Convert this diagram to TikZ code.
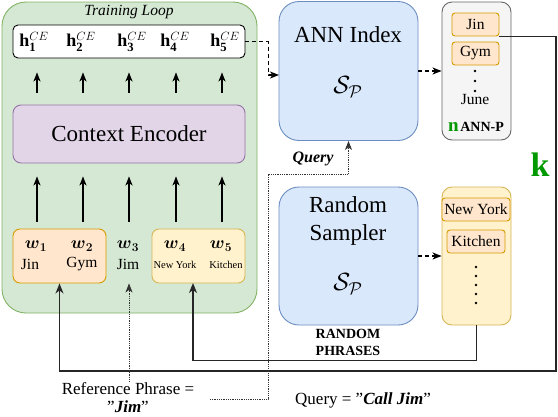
\documentclass[tikz,border=0pt]{standalone}
\usepackage{amsmath, amssymb}
\usepackage{fontspec}
\setmainfont{Liberation Serif}
\usepackage{tikz}
\usetikzlibrary{arrows.meta}
\definecolor{gfill}{HTML}{D5E8D4}
\definecolor{gline}{HTML}{82B366}
\definecolor{pfill}{HTML}{E1D5E7}
\definecolor{pline}{HTML}{9673A6}
\definecolor{bfill}{HTML}{DAE8FC}
\definecolor{bline}{HTML}{6C8EBF}
\definecolor{ofill}{HTML}{FFE6CC}
\definecolor{oline}{HTML}{D79B00}
\definecolor{yfill}{HTML}{FFF2CC}
\definecolor{yline}{HTML}{D6B656}
\definecolor{qfill}{HTML}{F5F5F5}
\definecolor{qline}{HTML}{666666}
\definecolor{kgreen}{HTML}{009900}
\tikzset{lg/.style={font=\fontsize{23}{28}\selectfont}}
\tikzset{md/.style={font=\fontsize{15.5}{18}\selectfont}}
\tikzset{mt/.style={font=\fontsize{18}{20}\selectfont}}
\tikzset{sm/.style={font=\fontsize{10.5}{12}\selectfont}}
\tikzset{nt/.style={font=\fontsize{17}{18}\selectfont}}
\tikzset{box/.style={draw, rounded corners=#1, inner sep=0pt, line width=0.9pt}}
\tikzset{up/.style={-{Stealth[length=9pt,width=7pt,inset=2.5pt]}, line width=1.2pt}}
\tikzset{dsh/.style={up, dash pattern=on 4pt off 3pt}}
\tikzset{link/.style={-{Stealth[length=10pt,width=8pt,inset=3pt]}, line width=1.3pt, black!85}}
\tikzset{dots/.style={-{Stealth[length=9pt,width=7pt,inset=2.5pt]}, line width=0.9pt, black!80, dash pattern=on 1pt off 0.8pt}}

\begin{document}
\begin{tikzpicture}[x=1pt,y=-1pt]
        \useasboundingbox (0,0) rectangle (558,416);
        % training loop
        \node[box=24, fill=gfill, draw=gline, minimum width=255pt, minimum height=311pt] (loop) at (129.5,157.5) {};
        \node[font=\fontsize{15.5}{18}\selectfont\itshape] (title) at (129,12) {Training Loop};
        \node[box=5, fill=white, draw=black, minimum width=232pt, minimum height=33pt] (hbox) at (129,41.5) {};
        \node[box=8, fill=pfill, draw=pline, minimum width=232pt, minimum height=58pt, lg] (enc) at (129,134) {Context Encoder};
        \node[box=7, fill=ofill, draw=oline, minimum width=93pt, minimum height=54pt] (wA) at (59.5,256) {};
        \node[box=7, fill=yfill, draw=yline, minimum width=93pt, minimum height=54pt] (wB) at (198.5,256) {};
        \foreach \i/\x in {1/34,2/81,3/132,4/175,5/225}
          \node[mt, inner sep=0pt] (h\i) at (\x,42) {$\mathbf{h}^{CE}_{\mathbf{\i}}$};
        \foreach \i/\x in {1/36,2/82,3/128,4/175,5/221}
          \node[mt, inner sep=0pt] (w\i) at (\x,246) {$\boldsymbol{w}_{\boldsymbol{\i}}$};
        \node[md] (t1) at (30,264) {Jin};
        \node[md] (t2) at (82,264) {Gym};
        \node[md] (t3) at (128,264) {Jim};
        \node[sm] (t4) at (175,265) {New York};
        \node[sm] (t5) at (226,265) {Kitchen};
        \foreach \i/\x in {1/37,2/83,3/129,4/176,5/222} {
          \coordinate (c\i) at (\x,0);
          \draw[up, shorten <=12pt, shorten >=14pt] (enc.north -| c\i) -- (hbox.south -| c\i);
          \draw[up, shorten <=7pt, shorten >=13pt] (wA.north -| c\i) -- (enc.south -| c\i);
        }

        % index and sampler
        \node[box=20, fill=bfill, draw=bline, minimum width=139pt, minimum height=139pt] (ann) at (348.5,71) {};
        \node[lg] (annlbl) at (348,35) {ANN Index};
        \node[lg] (annS) at (348,87) {$\mathcal{S}_{\mathcal{P}}$};
        \node[box=20, fill=bfill, draw=bline, minimum width=139pt, minimum height=138pt] (smp) at (348.5,256) {};
        \node[lg, align=center] (smplbl) at (348,221) {Random\\Sampler};
        \node[lg] (smpS) at (348,284) {$\mathcal{S}_{\mathcal{P}}$};
        \node[font=\fontsize{14}{17}\selectfont\bfseries, align=center] (rp) at (348,342) {RANDOM\\PHRASES};

        % ANN-P column
        \node[box=10, fill=qfill, draw=qline, minimum width=69pt, minimum height=138pt] (annp) at (476.5,71) {};
        \node[box=3, fill=ofill, draw=oline, minimum width=47pt, minimum height=23pt, md] (jin) at (475.5,24.5) {Jin};
        \node[box=3, fill=ofill, draw=oline, minimum width=47pt, minimum height=23pt, md] (gym) at (475.5,53.5) {Gym};
        \foreach \y in {71,81,91}
          \fill (475,\y) circle (1.3pt);
        \node[md] (june) at (475,99) {June};
        \node (np) at (476,127) {\textcolor{kgreen}{\fontsize{19}{20}\selectfont\bfseries n}\,\fontsize{14}{16}\selectfont\bfseries ANN-P};

        % random phrases column
        \node[box=10, fill=yfill, draw=yline, minimum width=69pt, minimum height=138pt] (rphr) at (476.5,256) {};
        \node[box=3, fill=ofill, draw=oline, minimum width=68pt, minimum height=23pt, md] (ny) at (476,209.5) {New York};
        \node[box=3, fill=ofill, draw=oline, minimum width=58pt, minimum height=23pt, md] (kit) at (476,241.5) {Kitchen};
        \foreach \y in {267,276,285,294,303}
          \fill (476,\y) circle (1.3pt);

        \node[font=\fontsize{34}{36}\selectfont\bfseries, text=kgreen] (k) at (540,165) {k};

        % notes
        \node[nt, align=center, inner sep=1pt] (refp) at (128,398) {Reference Phrase =\\"\textbf{\textit{Jim}}"};
        \node[nt] (qry) at (363,400) {Query = "\textbf{\textit{Call Jim}}"};
        \node[font=\fontsize{16}{18}\selectfont\bfseries\itshape] (qlbl) at (313,159) {Query};

        % connectors
        \coordinate (annin) at (279,75);
        \draw[dsh] (hbox.east) -- ++(23,0) |- (annin);
        \draw[dsh] (ann.east) -- (annp.west);
        \draw[dsh] (smp.east) -- (rphr.west);
        \coordinate (rgt) at (556,371);
        \draw[link] (jin.south east) -| (rgt) -| (wA.south);
        \coordinate (rpin) at (193,283);
        \draw[link] (rphr.south) -- ++(0,35) -| (rpin);
        \draw[dots] (refp.north -| c3) -- (wA.south -| c3);
        \coordinate (qstart) at (210,399);
        \coordinate (qbend) at (268,174);
        \draw[dots] (qstart) -| (qbend) -| (ann.south);
      \end{tikzpicture}
\end{document}
